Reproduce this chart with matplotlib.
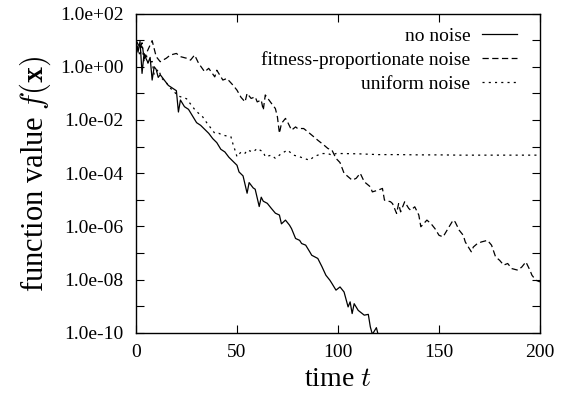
import numpy as np
import matplotlib
matplotlib.use('Agg')
import matplotlib.pyplot as plt
from matplotlib.ticker import FixedLocator, FuncFormatter

plt.rcParams['font.family'] = 'Liberation Serif'
plt.rcParams['mathtext.fontset'] = 'cm'
plt.rcParams['lines.scale_dashes'] = False

# log10 of f(x)
t_none = [0, 1, 2, 3, 4, 5, 6, 7, 8, 9, 10, 11, 12, 14, 16, 18, 20, 21, 22, 24, 26, 28,
          30, 32, 34, 36, 38, 40, 42, 44, 46, 48, 50, 51, 53, 55, 56, 58, 59, 61, 62, 63,
          65, 67, 69, 71, 72, 74, 76, 77, 79, 81, 82, 84, 86, 87, 90, 92, 94, 96, 97, 99,
          101, 103, 105, 106, 107, 108, 110, 113, 115, 116, 117, 119, 120]
log_none = [1.0, 0.55, 0.95, -0.25, 0.5, 0.3, 0.15, 0.35, -0.5, 0.0, -0.1, -0.4, -0.3,
            -0.5, -0.7, -0.8, -0.9, -1.7, -1.25, -1.5, -1.6, -1.85, -2.1, -2.2, -2.35,
            -2.5, -2.7, -2.85, -3.1, -3.2, -3.4, -3.55, -3.7, -3.95, -4.1, -4.75, -4.35,
            -4.55, -4.6, -5.25, -4.9, -5.05, -5.13, -5.32, -5.5, -5.57, -5.9, -5.76,
            -5.95, -6.08, -6.45, -6.52, -6.64, -6.7, -6.95, -7.08, -7.2, -7.5, -7.83,
            -8.02, -8.14, -8.39, -8.27, -8.46, -9.02, -8.83, -9.27, -8.9, -9.15, -9.33,
            -9.3, -9.77, -10.05, -9.8, -10.1]

t_fit = [0, 2, 3, 4, 6, 8, 10, 12, 15, 17, 20, 22, 25, 27, 29, 31, 34, 36, 39, 40, 43,
         45, 48, 50, 52, 54, 55, 57, 59, 60, 62, 63, 64, 67, 69, 70, 71, 72, 74, 75, 77,
         79, 80, 83, 85, 88, 90, 93, 95, 97, 99, 101, 103, 105, 107, 109, 111, 113, 116,
         117, 120, 122, 123, 126, 127, 129, 130, 131, 133, 135, 136, 138, 140, 141, 144,
         146, 148, 150, 152, 155, 157, 158, 160, 162, 163, 165, 166, 167, 169, 171, 174,
         176, 178, 180, 182, 184, 186, 189, 191, 193, 195, 196, 198, 200]
log_fit = [1.0, 0.7, 0.9, 0.3, 0.65, 0.98, 0.38, 0.19, 0.32, 0.44, 0.5, 0.38, 0.32, 0.25,
           0.44, 0.13, -0.19, -0.06, -0.38, -0.13, -0.5, -0.44, -0.69, -0.88, -1.15,
           -1.32, -1.0, -1.19, -1.13, -1.32, -1.25, -1.63, -1.06, -1.37, -1.57, -1.88,
           -2.5, -2.13, -1.94, -2.07, -2.38, -2.26, -2.32, -2.32, -2.44, -2.63, -2.76,
           -2.94, -3.07, -3.13, -3.44, -3.6, -4.0, -4.13, -4.26, -4.19, -4.0, -4.32,
           -4.51, -4.7, -4.63, -4.57, -5.01, -5.07, -5.14, -5.51, -5.14, -5.45, -5.07,
           -5.32, -5.39, -5.26, -5.57, -6.01, -5.76, -5.89, -6.08, -6.33, -6.39, -6.01,
           -5.76, -5.83, -6.14, -6.33, -6.58, -6.83, -6.95, -6.77, -6.64, -6.58, -6.52,
           -6.7, -7.14, -7.27, -7.45, -7.39, -7.58, -7.64, -7.52, -7.33, -7.64, -7.83,
           -8.02, -8.08]

t_uni = [0, 1, 2, 3, 4, 5, 6, 8, 9, 11, 13, 15, 17, 19, 21, 23, 25, 27, 29, 31, 33, 35,
         37, 39, 41, 43, 45, 47, 48, 49, 50, 52, 54, 55, 58, 60, 63, 64, 67, 69, 72, 75,
         78, 81, 83, 86, 88, 92, 95, 97, 99, 102, 110, 120, 130, 140, 150, 160, 170, 180,
         190, 200]
log_uni = [1.0, 0.7, 0.4, 0.85, 0.2, 0.5, 0.1, 0.2, -0.3, -0.1, -0.45, -0.6, -0.8, -0.95,
           -1.1, -1.15, -1.2, -1.4, -1.6, -1.75, -1.88, -2.1, -2.3, -2.5, -2.5, -2.57,
           -2.6, -2.63, -2.9, -3.13, -3.38, -3.2, -3.25, -3.13, -3.2, -3.07, -3.2, -3.38,
           -3.32, -3.44, -3.26, -3.13, -3.32, -3.38, -3.44, -3.51, -3.38, -3.26, -3.26,
           -3.32, -3.26, -3.26, -3.27, -3.3, -3.3, -3.31, -3.31, -3.32, -3.32, -3.32,
           -3.32, -3.32]

labels = ['no noise', 'fitness-proportionate noise', 'uniform noise']

fig = plt.figure(figsize=(5.61, 4.03), dpi=100)
ax = fig.add_axes([0.2424, 0.1737, 0.7202, 0.7928])

lw = 0.9
ax.plot(t_none, 10.0 ** np.array(log_none), color='k', lw=lw, label=labels[0])
ax.plot(t_fit, 10.0 ** np.array(log_fit), color='k', lw=lw, linestyle=(0, (4.5, 2.5)), label=labels[1])
ax.plot(t_uni, 10.0 ** np.array(log_uni), color='k', lw=lw, linestyle=(0, (1.5, 3.0)), label=labels[2])

ax.set_yscale('log')
ax.set_xlim(0, 200)
ax.set_ylim(1e-10, 1e2)
ax.set_xticks([0, 50, 100, 150, 200])
ax.yaxis.set_major_locator(FixedLocator([10.0 ** k for k in range(-10, 3)]))
ax.yaxis.set_minor_locator(FixedLocator([]))
ax.yaxis.set_major_formatter(FuncFormatter(
    lambda v, p: '%.1e' % v if int(round(np.log10(v))) % 2 == 0 else ''))

ax.tick_params(which='both', direction='in', top=True, right=True,
               length=5.8, width=0.8, labelsize=14)
ax.tick_params(axis='y', pad=9)
ax.tick_params(axis='x', pad=8)
for spine in ax.spines.values():
    spine.set_linewidth(1.0)

ax.set_xlabel('time $t$', fontsize=20, labelpad=4)
ax.set_ylabel(r'function value $f(\mathbf{x})$', fontsize=22, labelpad=5)

ax.legend(loc='upper right', frameon=False, markerfirst=False, fontsize=14,
          handlelength=1.8, handletextpad=0.6, labelspacing=0.33,
          borderaxespad=0.3, bbox_to_anchor=(0.977, 1.0))

plt.savefig('out.png', dpi=100)
